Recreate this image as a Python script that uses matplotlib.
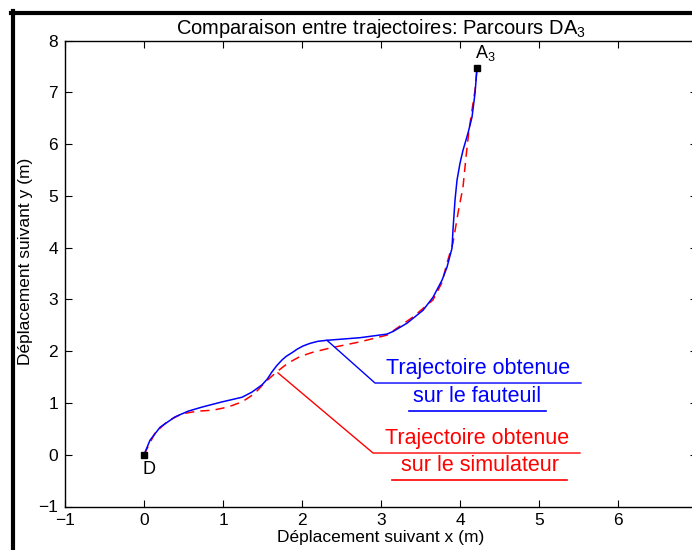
import matplotlib
matplotlib.use("Agg")
import matplotlib.pyplot as plt
from matplotlib.lines import Line2D

plt.rcParams["font.family"] = ["Liberation Sans", "DejaVu Sans"]
plt.rcParams["mathtext.default"] = "regular"

# trajectory measured on the wheelchair (blue, solid)
fauteuil_x = [0.0, 0.076, 0.203, 0.392, 0.557, 0.734, 0.987, 1.241, 1.367, 1.494,
              1.56, 1.620, 1.68, 1.747, 1.80, 1.873, 1.94, 2.013, 2.10, 2.20,
              2.316, 2.734, 3.076, 3.152, 3.329, 3.532, 3.658, 3.772, 3.835, 3.899,
              3.911, 3.925, 3.937, 3.962, 4.000, 4.038, 4.101, 4.152, 4.190, 4.215]
fauteuil_y = [0.0, 0.28, 0.53, 0.73, 0.84, 0.92, 1.02, 1.11, 1.21, 1.35,
              1.46, 1.60, 1.72, 1.83, 1.90, 1.97, 2.04, 2.10, 2.15, 2.19,
              2.21, 2.26, 2.33, 2.38, 2.54, 2.79, 3.04, 3.37, 3.62, 3.99,
              4.34, 4.65, 4.92, 5.30, 5.63, 5.88, 6.21, 6.52, 6.98, 7.46]

# trajectory from the simulator (red, dashed)
simu_x = [0.0, 0.139, 0.30, 0.481, 0.673, 0.873, 1.06, 1.241, 1.40, 1.532,
          1.68, 1.823, 1.98, 2.14, 2.354, 2.734, 3.076, 3.405, 3.658, 3.77,
          3.835, 3.911, 3.975, 4.038, 4.076, 4.114, 4.165, 4.190, 4.215]
simu_y = [0.0, 0.42, 0.65, 0.79, 0.84, 0.86, 0.92, 1.02, 1.18, 1.40,
          1.60, 1.77, 1.90, 1.98, 2.06, 2.18, 2.31, 2.66, 2.99, 3.32,
          3.70, 4.09, 4.67, 5.17, 5.75, 6.27, 6.79, 7.04, 7.46]

depart = (0.0, 0.0)
arrivee = (4.215, 7.46)

fig = plt.figure(figsize=(6.92, 5.5), dpi=100)
ax = fig.add_axes([65 / 692, 43.5 / 550, 632 / 692, 466 / 550])

ax.plot(simu_x, simu_y, color="red", linestyle=(0, (6, 4)), linewidth=1.1)
ax.plot(fauteuil_x, fauteuil_y, color="blue", linewidth=1.1)

ax.plot(*depart, marker="s", color="black", markersize=4)
ax.plot(*arrivee, marker="s", color="black", markersize=4)
ax.text(depart[0] + 0.06, depart[1] - 0.12, "D", ha="center", va="top", fontsize=13)
ax.text(arrivee[0] + 0.1, arrivee[1] + 0.1, "A$_3$", ha="center", va="bottom", fontsize=13)

# callout for the blue curve
ax.plot([2.316, 2.924, 5.532], [2.21, 1.385, 1.385], color="blue", linewidth=1)
ax.plot([3.354, 5.089], [0.844, 0.844], color="blue", linewidth=1.2)
ax.text(4.228, 1.56, "Trajectoire obtenue", color="blue", ha="center", va="baseline", fontsize=15.5)
ax.text(4.22, 1.01, "sur le fauteuil", color="blue", ha="center", va="baseline", fontsize=15.5)

# callout for the red curve
ax.plot([1.696, 2.899, 5.519], [1.58, 0.033, 0.033], color="red", linewidth=1)
ax.plot([3.139, 5.354], [-0.49, -0.49], color="red", linewidth=1.2)
ax.text(4.21, 0.21, "Trajectoire obtenue", color="red", ha="center", va="baseline", fontsize=15.5)
ax.text(4.25, -0.32, "sur le simulateur", color="red", ha="center", va="baseline", fontsize=15.5)

ax.set_xlim(-1, 7)
ax.set_ylim(-1, 8)
ax.set_xticks(range(-1, 8))
ax.set_yticks(range(-1, 9))
ax.tick_params(direction="in", length=5, top=True, right=True, labelsize=12.5, pad=5)
for s in ax.spines.values():
    s.set_linewidth(1)

ax.set_title("Comparaison entre trajectoires: Parcours DA$_3$", fontsize=14.5, pad=5)
ax.set_xlabel("Déplacement suivant x (m)", fontsize=12.5, labelpad=1)
ax.set_ylabel("Déplacement suivant y (m)", fontsize=12.5, va="center")
ax.yaxis.set_label_coords(-0.062, 0.527)

# black window frame of the original screenshot
fig.add_artist(Line2D([11 / 692, 1.0], [1 - 13 / 550, 1 - 13 / 550], color="black",
                      linewidth=3, transform=fig.transFigure))
fig.add_artist(Line2D([13 / 692, 13 / 692], [0.0, 1 - 11 / 550], color="black",
                      linewidth=3, transform=fig.transFigure))

fig.savefig("out.png", dpi=100)
